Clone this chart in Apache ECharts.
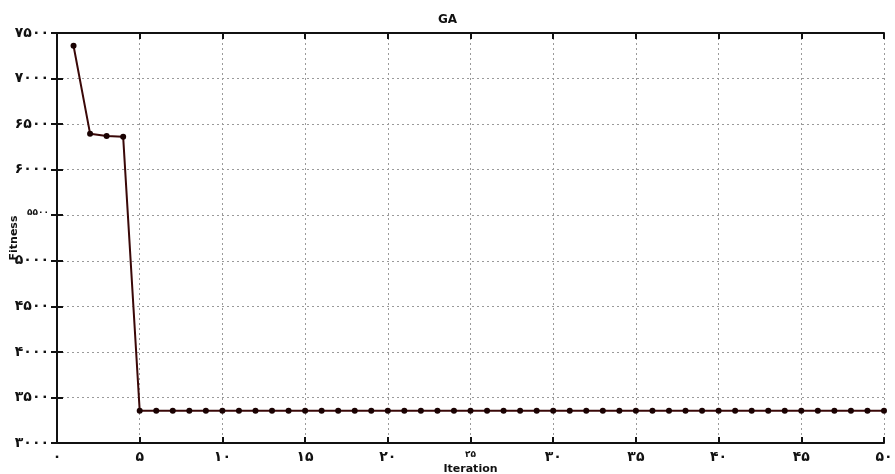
<!DOCTYPE html>
<html><head><meta charset="utf-8">
<script src="https://cdn.jsdelivr.net/npm/echarts@6/dist/echarts.min.js"></script>
<style>html,body{margin:0;padding:0;background:#fff}#c{width:895px;height:474px}</style>
</head><body><div id="c"></div>
<script>
var iterations = [];
for (var i = 1; i <= 50; i++) iterations.push(i);
var fitnessHead = [7360, 6395, 6370, 6360, 3355];
var fitnessTailValue = 3355;
var fitness = fitnessHead.slice();
while (fitness.length < iterations.length) fitness.push(fitnessTailValue);

var yTicks = [3000, 3500, 4000, 4500, 5000, 5500, 6000, 6500, 7000, 7500];
var xTicks = [0, 5, 10, 15, 20, 25, 30, 35, 40, 45, 50];
var persianDigits = ['۰','۱','۲','۳','۴','۵','۶','۷','۸','۹'];
function toPersian(n){ return String(n).replace(/[0-9]/g, function(d){ return persianDigits[+d]; }); }

var data = iterations.map(function(x, i){ return [x, fitness[i]]; });
var font = '"DejaVu Sans", sans-serif';
var chart = echarts.init(document.getElementById('c'));
var gridLine = {show: true, lineStyle: {color: '#9a9a9a', type: [2, 3], width: 1}};
var axisLine = {show: true, lineStyle: {color: '#111', width: 2}};
var tick = {show: true, inside: true, length: 6, lineStyle: {color: '#111', width: 2}};
chart.setOption({
  animation: false,
  title: {text: 'GA', left: 'center', top: 9, textStyle: {fontFamily: font, fontSize: 12, fontWeight: 'bold', color: '#111'}},
  grid: {left: 57, right: 11, top: 33, bottom: 31, containLabel: false, outerBoundsMode: 'none'},
  xAxis: [{
    type: 'value', min: 0, max: 50, interval: 5,
    name: 'Iteration', nameLocation: 'middle', nameGap: 21, nameMoveOverlap: false,
    nameTextStyle: {fontFamily: font, fontSize: 11, fontWeight: 'bold', color: '#111'},
    axisLine: axisLine, axisTick: tick, splitLine: gridLine,
    axisLabel: {fontFamily: font, fontSize: 14, fontWeight: 'bold', color: '#111', margin: 7,
      formatter: function(v){ return v === 25 ? '{s|' + toPersian(v) + '}' : toPersian(v); },
      rich: {s: {fontFamily: font, fontSize: 9, fontWeight: 'bold', color: '#111', padding: [0,0,6,0]}}}
  }, {
    type: 'value', min: 0, max: 50, interval: 5, position: 'top',
    axisLine: axisLine, axisTick: tick, axisLabel: {show: false}, splitLine: {show: false}
  }],
  yAxis: [{
    type: 'value', min: 3000, max: 7500, interval: 500,
    name: 'Fitness', nameLocation: 'middle', nameGap: 37, nameMoveOverlap: false,
    nameTextStyle: {fontFamily: font, fontSize: 11, fontWeight: 'bold', color: '#111'},
    axisLine: axisLine, axisTick: tick, splitLine: gridLine,
    axisLabel: {fontFamily: font, fontSize: 14, fontWeight: 'bold', color: '#111', margin: 8,
      formatter: function(v){ return v === 5500 ? '{s|' + toPersian(v) + '}' : toPersian(v); },
      rich: {s: {fontFamily: font, fontSize: 9, fontWeight: 'bold', color: '#111', padding: [0,0,6,0]}}}
  }, {
    type: 'value', min: 3000, max: 7500, interval: 500, position: 'right',
    axisLine: axisLine, axisTick: tick, axisLabel: {show: false}, splitLine: {show: false}
  }],
  series: [{
    type: 'line', data: data, symbol: 'circle', symbolSize: 6,
    lineStyle: {color: '#3a0808', width: 2},
    itemStyle: {color: '#1a0202'}
  }]
});
</script></body></html>
